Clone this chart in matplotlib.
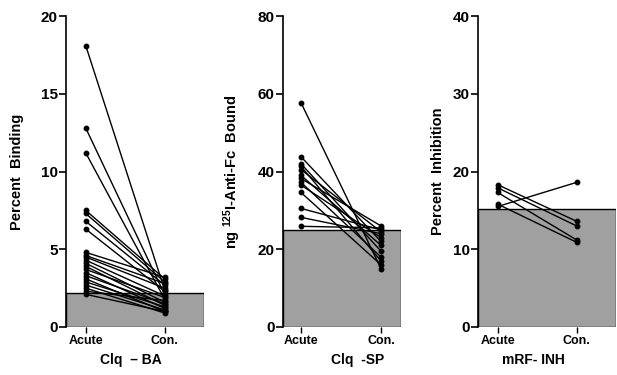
import matplotlib
matplotlib.use("Agg")
import matplotlib.pyplot as plt
from matplotlib.patches import Rectangle

plt.rcParams['font.family'] = ['Liberation Sans', 'DejaVu Sans']
plt.rcParams['font.weight'] = 'bold'
plt.rcParams['axes.labelweight'] = 'bold'
plt.rcParams['mathtext.fontset'] = 'custom'
plt.rcParams['mathtext.rm'] = 'Liberation Sans:bold'
plt.rcParams['mathtext.it'] = 'Liberation Sans:bold'
plt.rcParams['mathtext.bf'] = 'Liberation Sans:bold'
plt.rcParams['mathtext.default'] = 'bf'

groups = ["Acute", "Con."]

# Clq-BA, percent binding
acute1 = [18.1, 12.8, 11.2, 7.5, 7.3, 6.8, 6.3, 4.8, 4.6, 4.5, 4.3, 4.1, 3.9,
          3.7, 3.5, 3.3, 3.1, 2.9, 2.7, 2.5, 2.3, 2.1]
con1 = [2.4, 2.1, 1.8, 3.1, 2.9, 2.7, 2.3, 3.2, 2.8, 2.5, 2.0, 1.6, 1.4,
        1.9, 1.2, 1.5, 1.0, 1.3, 1.1, 0.9, 1.7, 1.0]
norm1 = 2.2

# Clq-SP, ng 125I-anti-Fc bound
acute2 = [57.7, 43.8, 42.0, 41.3, 40.5, 39.0, 38.2, 37.2, 36.5, 34.6, 30.5, 28.2, 25.9]
con2 = [15.0, 22.0, 19.5, 17.0, 24.5, 21.0, 26.0, 18.0, 23.0, 16.0, 25.0, 24.0, 25.5]
norm2 = 25.0

# mRF-INH, percent inhibition
acute3 = [18.3, 17.9, 17.3, 15.8, 15.5]
con3 = [13.6, 13.0, 11.2, 10.9, 18.6]
norm3 = 15.2

panels = [
    (acute1, con1, norm1, 20, 5, "Percent  Binding", "Clq  \u2013 BA",
     [66, 138], (-0.25, 1.5), 0.47, 12),
    (acute2, con2, norm2, 80, 20, r"ng $^{125}$I-Anti-Fc  Bound", "Clq  -SP",
     [283, 118], (-0.225, 1.25), 0.63, 10.5),
    (acute3, con3, norm3, 40, 10, "Percent  Inhibition", "mRF- INH",
     [478, 138], (-0.25, 1.5), 0.40, 5.5),
]

W, H = 617, 375
fig = plt.figure(figsize=(W / 100, H / 100), dpi=100)

for acute, con, norm, ymax, step, ylab, xlab, (px, pw), xlim, xlabx, pad in panels:
    ax = fig.add_axes([px / W, 48 / H, pw / W, 311 / H])
    ax.set_xlim(*xlim)
    ax.set_ylim(0, ymax)
    ax.add_patch(Rectangle((xlim[0], 0), xlim[1] - xlim[0], norm,
                           facecolor='#a0a0a0', edgecolor='black', lw=1.0, zorder=1))
    for a, c in zip(acute, con):
        ax.plot([0, 1], [a, c], color='black', lw=1.0, marker='o', ms=3.2,
                zorder=3, clip_on=False)
    for s in ['top', 'right', 'bottom']:
        ax.spines[s].set_visible(False)
    ax.spines['left'].set_linewidth(1.2)
    ax.set_yticks(range(0, ymax + 1, step))
    ax.set_xticks([0, 1])
    ax.set_xticklabels(groups, fontsize=9)
    ax.tick_params(axis='y', direction='out', length=5, width=1.2, labelsize=11, pad=1)
    ax.tick_params(axis='x', direction='out', length=4, width=1.0, pad=2)
    ax.set_ylabel(ylab, fontsize=10.5, labelpad=pad)
    ax.set_xlabel(xlab, fontsize=10)
    ax.xaxis.set_label_coords(xlabx, -0.085)

fig.savefig("out.png", dpi=100)
